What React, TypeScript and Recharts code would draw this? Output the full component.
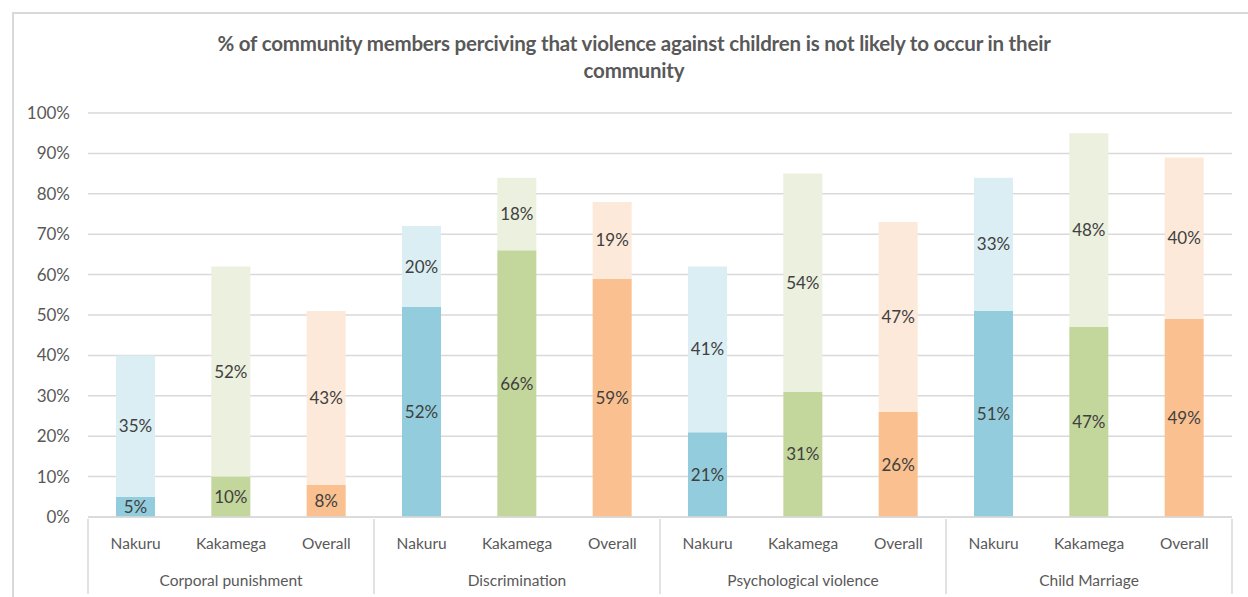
import { BarChart, Bar, XAxis, YAxis, CartesianGrid, Cell, LabelList } from "recharts";

const groups = ["Corporal punishment", "Discrimination", "Psychological violence", "Child Marriage"];
const cities = ["Nakuru", "Kakamega", "Overall"];

// bottom segment (dark) and top segment (light), per group, in city order
const likelyLow = [
  [5, 10, 8],
  [52, 66, 59],
  [21, 31, 26],
  [51, 47, 49],
];
const likelyHigh = [
  [35, 52, 43],
  [20, 18, 19],
  [41, 54, 47],
  [33, 48, 40],
];

const yTicks = [0, 10, 20, 30, 40, 50, 60, 70, 80, 90, 100];

const DARK = ["#93cddd", "#c3d69b", "#fac090"];
const LIGHT = ["#daeef3", "#ebf1de", "#fde9d9"];

const FONT = "Lato, 'Open Sans', sans-serif";
const TEXT = "#595959";
const LINE = "#d9d9d9";

const W = 1248;
const H = 597;
const M = { top: 113, right: 16, bottom: 0, left: 0 };
const Y_W = 88;

const data = groups.flatMap((g, gi) =>
  cities.map((c, ci) => ({
    key: `${g}-${c}`,
    group: g,
    city: c,
    ci,
    low: likelyLow[gi][ci],
    high: likelyHigh[gi][ci],
  }))
);

const groupBand = (W - M.right - Y_W) / groups.length;

const CityTick = (p: any) => {
  const d = data[p.index];
  return (
    <text x={p.x} y={p.y + 26} textAnchor="middle" dominantBaseline="middle"
      fontFamily={FONT} fontSize={15.5} fill={TEXT}>
      {d ? d.city : ""}
    </text>
  );
};

const GroupTick = (p: any) => {
  const half = groupBand / 2;
  const top = p.y - 40;
  const bottom = p.y + 35;
  return (
    <g>
      <line x1={p.x - half} x2={p.x - half} y1={top} y2={bottom} stroke={LINE} strokeWidth={1.5} />
      {p.index === groups.length - 1 && (
        <line x1={p.x + half} x2={p.x + half} y1={top} y2={bottom} stroke={LINE} strokeWidth={1.5} />
      )}
      <text x={p.x} y={p.y + 23} textAnchor="middle" dominantBaseline="middle"
        fontFamily={FONT} fontSize={15.5} fill={TEXT}>
        {p.payload.value}
      </text>
    </g>
  );
};

const pct = (v: any) => `${v}%`;

export default function App() {
  return (
    <div style={{ position: "fixed", left: 0, top: 0, width: W, height: H, overflow: "hidden", background: "#fff" }}>
      <div style={{ position: "absolute", left: 12, top: 12, width: 1300, height: 700, border: `2px solid ${LINE}` }} />
      <div style={{
        position: "absolute", left: 12, top: 30, width: 1244, textAlign: "center",
        fontFamily: FONT, fontWeight: 700, fontSize: 20.5, lineHeight: "27px", color: TEXT,
        letterSpacing: -0.2,
      }}>
        % of community members perciving that violence against children is not likely to occur in their
        <br />
        community
      </div>
      <div style={{ position: "absolute", left: 0, top: 0 }}>
        <BarChart width={W} height={H} data={data} margin={M} barSize={39}>
          <CartesianGrid vertical={false} stroke={LINE} strokeWidth={1.5} />
          <YAxis domain={[0, 100]} ticks={yTicks} tickFormatter={pct} width={Y_W}
            axisLine={false} tickLine={false} tickSize={0} tickMargin={18}
            tick={{ fontFamily: FONT, fontSize: 17, fill: TEXT }} />
          <XAxis dataKey="key" height={40} tick={<CityTick />} interval={0}
            axisLine={{ stroke: LINE, strokeWidth: 1.5 }} tickLine={false} tickSize={0} />
          <XAxis xAxisId="group" dataKey="group" allowDuplicatedCategory={false} height={40}
            tick={<GroupTick />} interval={0} axisLine={false} tickLine={false} tickSize={0} />
          <Bar dataKey="low" stackId="a" isAnimationActive={false}>
            {data.map((d) => <Cell key={d.key} fill={DARK[d.ci]} />)}
            <LabelList dataKey="low" position="center" formatter={pct}
              style={{ fontFamily: FONT, fontSize: 17, fill: "#404040" }} />
          </Bar>
          <Bar dataKey="high" stackId="a" isAnimationActive={false}>
            {data.map((d) => <Cell key={d.key} fill={LIGHT[d.ci]} />)}
            <LabelList dataKey="high" position="center" formatter={pct}
              style={{ fontFamily: FONT, fontSize: 17, fill: "#404040" }} />
          </Bar>
        </BarChart>
      </div>
    </div>
  );
}
